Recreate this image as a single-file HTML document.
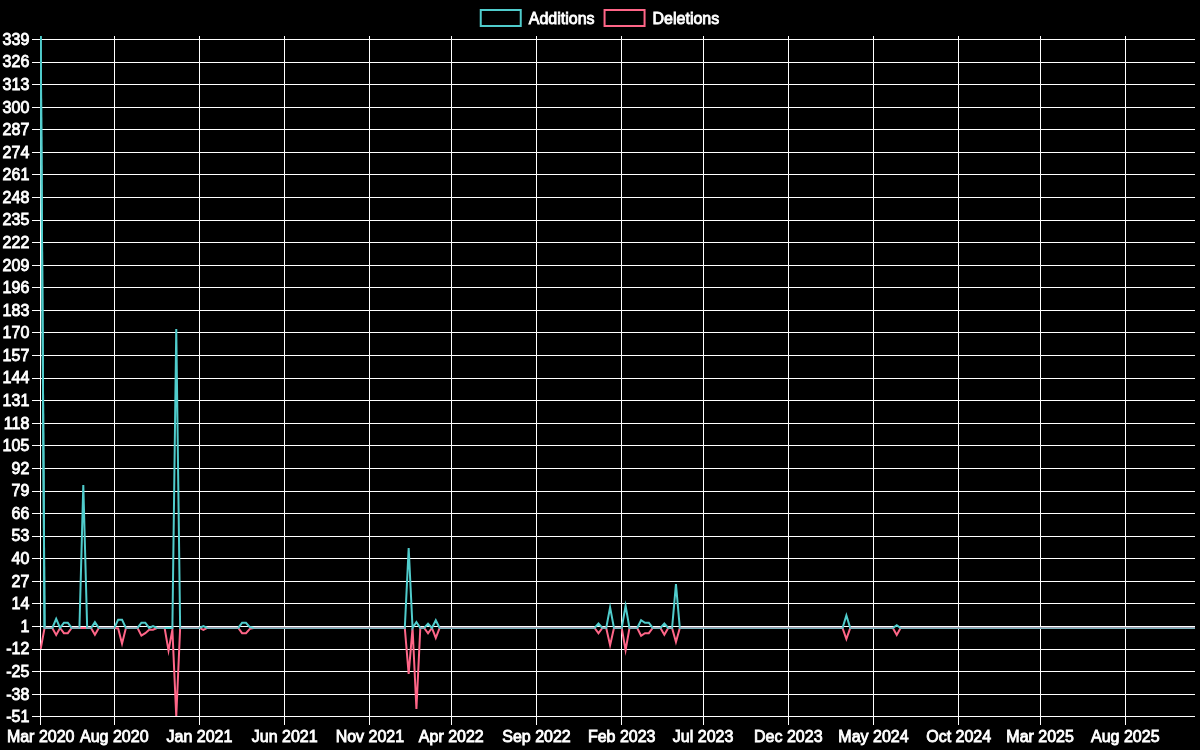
<!DOCTYPE html><html><head><meta charset="utf-8"><title>chart</title><style>html,body{margin:0;padding:0;background:#000;}body{width:1200px;height:750px;overflow:hidden;}svg{display:block;will-change:transform;}text{font-family:"Liberation Sans",sans-serif;font-size:16px;fill:#fff;stroke:#fff;stroke-width:0.85px;}</style></head><body>
<svg width="1200" height="750" viewBox="0 0 1200 750">
<rect width="1200" height="750" fill="#000"/>
<path d="M32 39.5H1195.0M32 62.5H1195.0M32 84.5H1195.0M32 107.5H1195.0M32 129.5H1195.0M32 152.5H1195.0M32 174.5H1195.0M32 197.5H1195.0M32 220.5H1195.0M32 242.5H1195.0M32 265.5H1195.0M32 287.5H1195.0M32 310.5H1195.0M32 332.5H1195.0M32 355.5H1195.0M32 378.5H1195.0M32 400.5H1195.0M32 423.5H1195.0M32 445.5H1195.0M32 468.5H1195.0M32 491.5H1195.0M32 513.5H1195.0M32 536.5H1195.0M32 558.5H1195.0M32 581.5H1195.0M32 603.5H1195.0M32 626.5H1195.0M32 649.5H1195.0M32 671.5H1195.0M32 694.5H1195.0M32 716.5H1195.0M40.5 36V725M114.5 36V725M199.5 36V725M284.5 36V725M369.5 36V725M451.5 36V725M536.5 36V725M621.5 36V725M703.5 36V725M788.5 36V725M873.5 36V725M958.5 36V725M1040.5 36V725M1125.5 36V725" stroke="#fff" stroke-width="1" fill="none" shape-rendering="crispEdges"/>
<defs><clipPath id="ca"><rect x="40" y="36" width="1156" height="681"/></clipPath></defs>
<polyline clip-path="url(#ca)" points="40.69,648.80 44.56,627.97 52.31,627.97 56.18,634.95 60.06,627.97 63.93,633.18 67.80,633.18 71.68,627.97 91.05,627.97 94.92,634.83 98.79,627.97 114.29,627.97 118.16,628.49 122.03,643.70 125.91,627.97 137.53,627.97 141.40,635.64 145.28,633.18 149.15,629.71 153.02,629.71 156.90,627.97 164.64,627.97 168.52,650.55 172.39,629.71 176.26,716.50 180.14,627.97 199.50,627.97 203.38,629.83 207.25,627.97 238.24,627.97 242.11,633.18 245.99,633.18 249.86,628.84 253.73,627.97 404.80,627.97 408.67,673.80 412.55,627.97 416.42,709.04 420.30,627.97 424.17,627.97 428.04,633.30 431.92,627.97 435.79,637.92 439.66,627.97 594.60,627.97 598.48,633.30 602.35,627.97 606.22,627.97 610.10,645.12 613.97,627.97 621.72,627.97 625.59,650.17 629.47,627.97 637.21,627.97 641.09,635.75 644.96,633.18 648.83,633.18 652.71,627.97 660.45,627.97 664.33,634.83 668.20,627.97 672.07,627.97 675.95,642.03 679.82,627.97 842.51,627.97 846.38,638.99 850.26,627.97 892.87,627.97 896.74,634.95 900.61,627.97 1195.00,627.97" fill="none" stroke="rgb(255,102,136)" stroke-width="2" stroke-linejoin="miter" stroke-miterlimit="10"/>
<polyline clip-path="url(#ca)" points="40.69,35.99 44.56,627.97 52.31,627.97 56.18,618.75 60.06,627.97 63.93,622.76 67.80,622.76 71.68,627.97 79.43,627.97 83.30,484.93 87.17,627.97 91.05,627.97 94.92,622.12 98.79,627.97 114.29,627.97 118.16,619.64 122.03,619.64 125.91,627.97 137.53,627.97 141.40,622.76 145.28,622.76 149.15,627.97 153.02,626.16 156.90,627.97 172.39,627.97 176.26,329.05 180.14,627.97 199.50,627.97 203.38,626.11 207.25,627.97 238.24,627.97 242.11,622.76 245.99,622.76 249.86,627.10 253.73,627.97 404.80,627.97 408.67,548.00 412.55,627.97 416.42,622.03 420.30,627.97 424.17,627.97 428.04,623.68 431.92,627.97 435.79,620.23 439.66,627.97 594.60,627.97 598.48,623.53 602.35,627.97 606.22,627.97 610.10,607.40 613.97,627.97 621.72,627.97 625.59,605.80 629.47,627.97 637.21,627.97 641.09,620.23 644.96,622.76 648.83,622.76 652.71,627.97 660.45,627.97 664.33,623.53 668.20,627.97 672.07,627.97 675.95,584.05 679.82,627.97 842.51,627.97 846.38,615.40 850.26,627.97 892.87,627.97 896.74,625.23 900.61,627.97 1195.00,627.97" fill="none" stroke="rgb(80,204,204)" stroke-width="2" stroke-linejoin="miter" stroke-miterlimit="10"/>
<path d="M40.69 36L44.56 627.97" stroke="rgb(80,204,204)" stroke-width="2" fill="none" clip-path="url(#ca)"/>
<rect x="32" y="716" width="1163" height="1" fill="#fff"/>
<rect x="44.56" y="627" width="7.75" height="1" fill="rgb(153,153,170)"/>
<rect x="44.56" y="628" width="7.75" height="1" fill="rgb(122,178,188)"/>
<rect x="71.68" y="627" width="7.75" height="1" fill="rgb(153,153,170)"/>
<rect x="71.68" y="628" width="7.75" height="1" fill="rgb(122,178,188)"/>
<rect x="87.17" y="627" width="3.87" height="1" fill="rgb(153,153,170)"/>
<rect x="87.17" y="628" width="3.87" height="1" fill="rgb(122,178,188)"/>
<rect x="98.79" y="627" width="15.49" height="1" fill="rgb(153,153,170)"/>
<rect x="98.79" y="628" width="15.49" height="1" fill="rgb(122,178,188)"/>
<rect x="125.91" y="627" width="11.62" height="1" fill="rgb(153,153,170)"/>
<rect x="125.91" y="628" width="11.62" height="1" fill="rgb(122,178,188)"/>
<rect x="156.90" y="627" width="7.75" height="1" fill="rgb(153,153,170)"/>
<rect x="156.90" y="628" width="7.75" height="1" fill="rgb(122,178,188)"/>
<rect x="180.14" y="627" width="19.37" height="1" fill="rgb(153,153,170)"/>
<rect x="180.14" y="628" width="19.37" height="1" fill="rgb(122,178,188)"/>
<rect x="207.25" y="627" width="30.99" height="1" fill="rgb(153,153,170)"/>
<rect x="207.25" y="628" width="30.99" height="1" fill="rgb(122,178,188)"/>
<rect x="253.73" y="627" width="151.07" height="1" fill="rgb(153,153,170)"/>
<rect x="253.73" y="628" width="151.07" height="1" fill="rgb(122,178,188)"/>
<rect x="420.30" y="627" width="3.87" height="1" fill="rgb(153,153,170)"/>
<rect x="420.30" y="628" width="3.87" height="1" fill="rgb(122,178,188)"/>
<rect x="439.66" y="627" width="154.94" height="1" fill="rgb(153,153,170)"/>
<rect x="439.66" y="628" width="154.94" height="1" fill="rgb(122,178,188)"/>
<rect x="602.35" y="627" width="3.87" height="1" fill="rgb(153,153,170)"/>
<rect x="602.35" y="628" width="3.87" height="1" fill="rgb(122,178,188)"/>
<rect x="613.97" y="627" width="7.75" height="1" fill="rgb(153,153,170)"/>
<rect x="613.97" y="628" width="7.75" height="1" fill="rgb(122,178,188)"/>
<rect x="629.47" y="627" width="7.75" height="1" fill="rgb(153,153,170)"/>
<rect x="629.47" y="628" width="7.75" height="1" fill="rgb(122,178,188)"/>
<rect x="652.71" y="627" width="7.75" height="1" fill="rgb(153,153,170)"/>
<rect x="652.71" y="628" width="7.75" height="1" fill="rgb(122,178,188)"/>
<rect x="668.20" y="627" width="3.87" height="1" fill="rgb(153,153,170)"/>
<rect x="668.20" y="628" width="3.87" height="1" fill="rgb(122,178,188)"/>
<rect x="679.82" y="627" width="162.69" height="1" fill="rgb(153,153,170)"/>
<rect x="679.82" y="628" width="162.69" height="1" fill="rgb(122,178,188)"/>
<rect x="850.26" y="627" width="42.61" height="1" fill="rgb(153,153,170)"/>
<rect x="850.26" y="628" width="42.61" height="1" fill="rgb(122,178,188)"/>
<rect x="900.61" y="627" width="294.39" height="1" fill="rgb(153,153,170)"/>
<rect x="900.61" y="628" width="294.39" height="1" fill="rgb(122,178,188)"/>
<text x="29.3" y="44.77" text-anchor="end">339</text>
<text x="29.3" y="67.35" text-anchor="end">326</text>
<text x="29.3" y="89.93" text-anchor="end">313</text>
<text x="29.3" y="112.51" text-anchor="end">300</text>
<text x="29.3" y="135.08" text-anchor="end">287</text>
<text x="29.3" y="157.66" text-anchor="end">274</text>
<text x="29.3" y="180.24" text-anchor="end">261</text>
<text x="29.3" y="202.82" text-anchor="end">248</text>
<text x="29.3" y="225.39" text-anchor="end">235</text>
<text x="29.3" y="247.97" text-anchor="end">222</text>
<text x="29.3" y="270.55" text-anchor="end">209</text>
<text x="29.3" y="293.13" text-anchor="end">196</text>
<text x="29.3" y="315.70" text-anchor="end">183</text>
<text x="29.3" y="338.28" text-anchor="end">170</text>
<text x="29.3" y="360.86" text-anchor="end">157</text>
<text x="29.3" y="383.44" text-anchor="end">144</text>
<text x="29.3" y="406.01" text-anchor="end">131</text>
<text x="29.3" y="428.59" text-anchor="end">118</text>
<text x="29.3" y="451.17" text-anchor="end">105</text>
<text x="29.3" y="473.75" text-anchor="end">92</text>
<text x="29.3" y="496.32" text-anchor="end">79</text>
<text x="29.3" y="518.90" text-anchor="end">66</text>
<text x="29.3" y="541.48" text-anchor="end">53</text>
<text x="29.3" y="564.06" text-anchor="end">40</text>
<text x="29.3" y="586.63" text-anchor="end">27</text>
<text x="29.3" y="609.21" text-anchor="end">14</text>
<text x="29.3" y="631.79" text-anchor="end">1</text>
<text x="29.3" y="654.37" text-anchor="end">-12</text>
<text x="29.3" y="676.94" text-anchor="end">-25</text>
<text x="29.3" y="699.52" text-anchor="end">-38</text>
<text x="29.3" y="722.10" text-anchor="end">-51</text>
<text x="40.7" y="742.4" text-anchor="middle">Mar 2020</text>
<text x="114.3" y="742.4" text-anchor="middle">Aug 2020</text>
<text x="199.5" y="742.4" text-anchor="middle">Jan 2021</text>
<text x="284.7" y="742.4" text-anchor="middle">Jun 2021</text>
<text x="369.9" y="742.4" text-anchor="middle">Nov 2021</text>
<text x="451.3" y="742.4" text-anchor="middle">Apr 2022</text>
<text x="536.5" y="742.4" text-anchor="middle">Sep 2022</text>
<text x="621.7" y="742.4" text-anchor="middle">Feb 2023</text>
<text x="703.1" y="742.4" text-anchor="middle">Jul 2023</text>
<text x="788.3" y="742.4" text-anchor="middle">Dec 2023</text>
<text x="873.5" y="742.4" text-anchor="middle">May 2024</text>
<text x="958.7" y="742.4" text-anchor="middle">Oct 2024</text>
<text x="1040.1" y="742.4" text-anchor="middle">Mar 2025</text>
<text x="1125.3" y="742.4" text-anchor="middle">Aug 2025</text>
<rect x="480.74" y="10" width="40" height="16" fill="none" stroke="rgb(80,204,204)" stroke-width="2"/>
<text x="528.75" y="23.5">Additions</text>
<rect x="604.56" y="10" width="40" height="16" fill="none" stroke="rgb(255,102,136)" stroke-width="2"/>
<text x="652.56" y="23.5">Deletions</text>
</svg></body></html>
